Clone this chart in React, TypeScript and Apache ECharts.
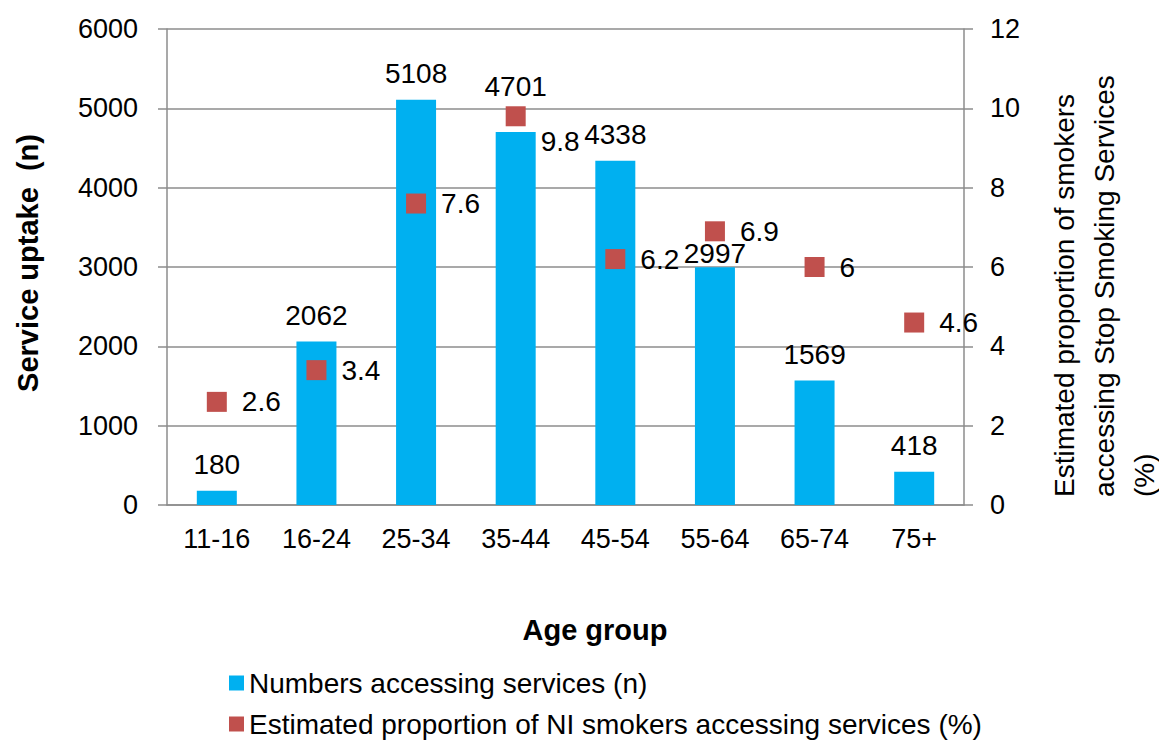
import React, { useEffect, useRef } from "react";
import * as echarts from "echarts";

// Age bands on the category axis
const ageGroups = ["11-16", "16-24", "25-34", "35-44", "45-54", "55-64", "65-74", "75+"];
// Numbers accessing Stop Smoking Services (n)
const serviceUptake = [180, 2062, 5108, 4701, 4338, 2997, 1569, 418];
// Estimated proportion of NI smokers accessing services (%)
const proportionPct = [2.6, 3.4, 7.6, 9.8, 6.2, 6.9, 6, 4.6];

const leftTicks = { min: 0, max: 6000, interval: 1000 };
const rightTicks = { min: 0, max: 12, interval: 2 };

const BAR_NAME = "Numbers accessing services (n)";
const MARKER_NAME = "Estimated proportion of NI smokers accessing services (%)";

const FONT = "'Liberation Sans', Arial, sans-serif";
const BAR_COLOR = "#00B0F0";
const MARKER_COLOR = "#C0504D";
const LINE_COLOR = "#8C8C8C";

// Per-item label nudges so bar labels and marker labels don't collide
const barLabelOffsets: Record<number, number[]> = { 3: [0, -20], 5: [0, 12] };
const markerLabelOffsets: Record<number, number[]> = { 3: [0, 25] };

export default function App() {
  const ref = useRef<HTMLDivElement>(null);

  useEffect(() => {
    if (!ref.current) return;
    const chart = echarts.init(ref.current, null, { renderer: "svg" });

    const barData = serviceUptake.map((v, i) =>
      barLabelOffsets[i] ? { value: v, label: { offset: barLabelOffsets[i] } } : v
    );
    const markerData = proportionPct.map((v, i) =>
      markerLabelOffsets[i] ? { value: v, label: { offset: markerLabelOffsets[i] } } : v
    );

    const legendBase = {
      orient: "vertical",
      left: 224,
      itemWidth: 15,
      itemHeight: 15,
      icon: "rect",
      textStyle: { fontFamily: FONT, fontSize: 28, color: "#000" },
    };

    chart.setOption({
      animation: false,
      backgroundColor: "#ffffff",
      textStyle: { fontFamily: FONT },
      grid: { left: 167, right: 195, top: 29, bottom: 238, containLabel: false },
      legend: [
        { ...legendBase, top: 664, data: [BAR_NAME] },
        { ...legendBase, top: 705, data: [MARKER_NAME] },
      ],
      xAxis: {
        type: "category",
        data: ageGroups,
        axisLine: { lineStyle: { color: LINE_COLOR, width: 1.5 } },
        axisTick: { show: false },
        axisLabel: { color: "#000", fontSize: 27, fontFamily: FONT, margin: 20 },
      },
      yAxis: [
        {
          type: "value",
          ...leftTicks,
          position: "left",
          axisLine: { show: true, lineStyle: { color: LINE_COLOR, width: 1.5 } },
          axisTick: { show: true, length: 9, lineStyle: { color: LINE_COLOR, width: 1.5 } },
          axisLabel: {
            color: "#000",
            fontSize: 27,
            fontFamily: FONT,
            margin: 29,
            formatter: (v: number) => String(v),
          },
          splitLine: { show: true, lineStyle: { color: LINE_COLOR, width: 1.5 } },
        },
        {
          type: "value",
          ...rightTicks,
          position: "right",
          axisLine: { show: true, lineStyle: { color: LINE_COLOR, width: 1.5 } },
          axisTick: { show: true, length: 9, lineStyle: { color: LINE_COLOR, width: 1.5 } },
          axisLabel: {
            color: "#000",
            fontSize: 27,
            fontFamily: FONT,
            margin: 26,
            formatter: (v: number) => String(v),
          },
          splitLine: { show: false },
        },
      ],
      series: [
        {
          name: BAR_NAME,
          type: "bar",
          yAxisIndex: 0,
          barWidth: 40,
          data: barData,
          itemStyle: { color: BAR_COLOR },
          label: {
            show: true,
            position: "top",
            distance: 12,
            color: "#000",
            fontSize: 28,
            fontFamily: FONT,
          },
        },
        {
          name: MARKER_NAME,
          type: "scatter",
          yAxisIndex: 1,
          symbol: "rect",
          symbolSize: 20,
          data: markerData,
          itemStyle: { color: MARKER_COLOR, opacity: 1 },
          label: {
            show: true,
            position: "right",
            distance: 15,
            color: "#000",
            fontSize: 28,
            fontFamily: FONT,
          },
          z: 3,
        },
      ],
      graphic: [
        {
          type: "text",
          x: 28,
          y: 263,
          rotation: Math.PI / 2,
          style: {
            text: "Service uptake  (n)",
            fontFamily: FONT,
            fontSize: 29,
            fontWeight: "bold",
            fill: "#000",
            align: "center",
            verticalAlign: "middle",
          },
        },
        {
          type: "text",
          x: 595,
          y: 630,
          style: {
            text: "Age group",
            fontFamily: FONT,
            fontSize: 29,
            fontWeight: "bold",
            fill: "#000",
            align: "center",
            verticalAlign: "middle",
          },
        },
        {
          type: "text",
          x: 1104,
          y: 497,
          rotation: Math.PI / 2,
          style: {
            text:
              "Estimated proportion of smokers\naccessing Stop Smoking Services\n(%)",
            fontFamily: FONT,
            fontSize: 28,
            lineHeight: 40,
            fill: "#000",
            align: "left",
            verticalAlign: "middle",
          },
        },
      ],
    });

    return () => chart.dispose();
  }, []);

  return (
    <div
      ref={ref}
      style={{ position: "fixed", left: 0, top: 0, width: 1159, height: 743 }}
    />
  );
}
